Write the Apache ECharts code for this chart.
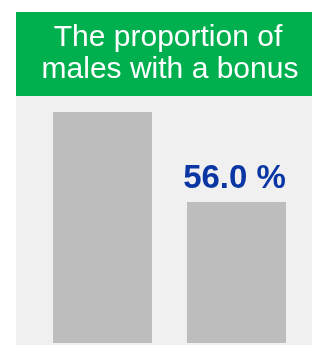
<!DOCTYPE html>
<html>
<head>
<meta charset="utf-8">
<script src="https://cdn.jsdelivr.net/npm/echarts@6/dist/echarts.min.js"></script>
<style>
  html, body { margin: 0; padding: 0; background: #ffffff; }
  #chart { width: 312px; height: 345px; }
</style>
</head>
<body>
<div id="chart"></div>
<script>
// data
var categories = ['All', 'Males'];
var barValues = [91.7, 56.0];
var barLabels = ['', '56.0 %'];
var titleLines = ['The proportion of', 'males with a bonus'];

var chart = echarts.init(document.getElementById('chart'));

var option = {
  animation: false,
  backgroundColor: '#ffffff',
  graphic: [
    // grey panel
    { type: 'rect', z: -10, shape: { x: 16, y: 96, width: 296, height: 249 }, style: { fill: '#f0f0f0' } },
    // green header
    { type: 'rect', z: -10, shape: { x: 16, y: 12, width: 296, height: 84 }, style: { fill: '#00b04f' } },
    { type: 'text', z: 10, x: 168, y: 38, style: {
        text: titleLines[0], fill: '#ffffff', font: '30px "Liberation Sans", Arial, sans-serif',
        align: 'center', verticalAlign: 'middle' } },
    { type: 'text', z: 10, x: 170, y: 70, style: {
        text: titleLines[1], fill: '#ffffff', font: '30px "Liberation Sans", Arial, sans-serif',
        align: 'center', verticalAlign: 'middle' } }
  ],
  grid: { left: 35.5, right: 8.5, top: 112, bottom: 2, containLabel: false },
  xAxis: {
    type: 'category',
    data: categories,
    show: false
  },
  yAxis: {
    type: 'value',
    min: 0,
    max: barValues[0],
    show: false
  },
  series: [{
    type: 'bar',
    barWidth: 99,
    data: barValues,
    itemStyle: { color: '#bdbdbd' },
    label: {
      show: true,
      position: 'top',
      distance: 7,
      offset: [-2, 0],
      color: '#0a36a4',
      fontFamily: '"Liberation Sans", Arial, sans-serif',
      fontWeight: 'bold',
      fontSize: 33,
      formatter: function (p) { return barLabels[p.dataIndex]; }
    }
  }]
};

chart.setOption(option);
</script>
</body>
</html>
